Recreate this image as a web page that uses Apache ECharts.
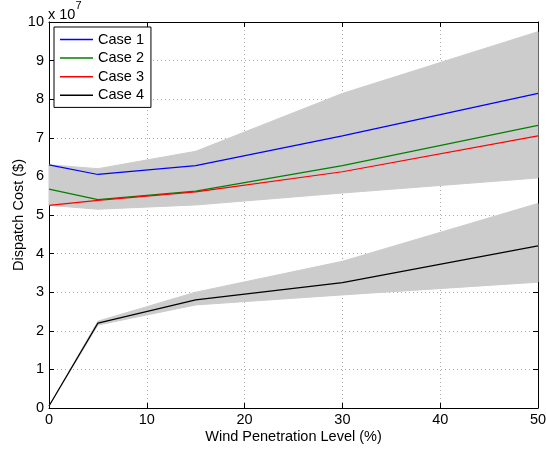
<!DOCTYPE html>
<html><head><meta charset="utf-8">
<script src="https://cdn.jsdelivr.net/npm/echarts@6/dist/echarts.min.js"></script>
<style>html,body{margin:0;padding:0;background:#fff}#c{width:546px;height:449px}</style>
</head><body><div id="c"></div>
<script>
// Values in units of 1e7 $
var windLevels = [0, 5, 15, 30, 50];
var case1 = [6.30, 6.05, 6.28, 7.05, 8.15];
var case2 = [5.67, 5.40, 5.62, 6.28, 7.32];
var case3 = [5.25, 5.38, 5.60, 6.12, 7.05];
var case4 = [0.05, 2.20, 2.80, 3.25, 4.20];
// gray scenario envelopes (lower / upper)
var upperBandLow  = [5.25, 5.15, 5.26, 5.57, 5.96];
var upperBandHigh = [6.30, 6.20, 6.65, 8.15, 9.75];
var lowerBandLow  = [0.05, 2.15, 2.67, 2.93, 3.26];
var lowerBandHigh = [0.05, 2.25, 3.00, 3.80, 5.30];
var caseNames = ['Case 1', 'Case 2', 'Case 3', 'Case 4'];

function pairs(arr){ return windLevels.map(function(x,i){ return [x, arr[i]]; }); }

var FONT = 'Liberation Sans';
var FS = 14.5;
var gray = '#cccccc';
var chart = echarts.init(document.getElementById('c'));
var gridLine = {show:true, lineStyle:{color:'#aaa', type:[1,3], width:1}};
var axisCommon = {
  axisLine:{show:true, onZero:false, lineStyle:{color:'#000', width:1}},
  axisTick:{show:true, inside:true, length:5, lineStyle:{color:'#000'}},
  axisLabel:{color:'#000', fontFamily:FONT, fontSize:FS},
};
function bandSeries(lo, hi){
  var rows = windLevels.map(function(x,i){ return [x, lo[i], hi[i]]; });
  return {type:'custom', silent:true, z:1, data:rows, encode:{x:0, y:[1,2]},
    renderItem:function(params, api){
      var i = params.dataIndex;
      if (i === 0) return null;
      var a = rows[i-1], b = rows[i];
      var pts = [api.coord([a[0], a[1]]), api.coord([b[0], b[1]]), api.coord([b[0], b[2]]), api.coord([a[0], a[2]])];
      return {type:'polygon', shape:{points:pts}, style:{fill:gray, stroke:gray, lineWidth:1}};
    }};
}
var caseColors = ['#0000ff', '#008000', '#ff0000', '#000000'];
var caseData = [case1, case2, case3, case4];
var series = [bandSeries(upperBandLow, upperBandHigh), bandSeries(lowerBandLow, lowerBandHigh)];
caseNames.forEach(function(n, i){
  series.push({name:n, type:'line', data:pairs(caseData[i]), symbol:'none',
    lineStyle:{color:caseColors[i], width:1.2}, itemStyle:{color:caseColors[i]}, z:5});
});

chart.setOption({
  animation:false,
  backgroundColor:'#fff',
  textStyle:{fontFamily:FONT},
  grid:{left:49, right:8, top:22, bottom:41, show:false, containLabel:false, outerBoundsMode:'none'},
  legend:{
    data:caseNames.map(function(n,i){return {name:n, icon:'rect', itemStyle:{color:caseColors[i]}};}),
    orient:'vertical', left:54, top:27, itemWidth:33, itemHeight:1.5, itemGap:3.6,
    borderColor:'#000', borderWidth:1, backgroundColor:'#fff', padding:[5,7,4.6,6],
    textStyle:{fontFamily:FONT, fontSize:FS, color:'#000'}, selectedMode:false
  },
  xAxis:[
    Object.assign({type:'value', min:0, max:50, interval:10, position:'bottom',
      name:'Wind Penetration Level (%)', nameLocation:'middle', nameGap:21, nameMoveOverlap:false,
      nameTextStyle:{fontFamily:FONT, fontSize:FS, color:'#000'},
      splitLine:gridLine}, axisCommon, {axisLabel:{color:'#000', fontFamily:FONT, fontSize:FS, margin:4}}),
    Object.assign({type:'value', min:0, max:50, interval:10, position:'top'}, axisCommon,
      {axisLabel:{show:false}, splitLine:{show:false}})
  ],
  yAxis:[
    Object.assign({type:'value', min:0, max:10, interval:1, position:'left',
      name:'Dispatch Cost ($)', nameLocation:'middle', nameGap:23, nameRotate:90, nameMoveOverlap:false,
      nameTextStyle:{fontFamily:FONT, fontSize:FS, color:'#000'},
      splitLine:gridLine}, axisCommon, {axisLabel:{color:'#000', fontFamily:FONT, fontSize:FS, margin:5}}),
    Object.assign({type:'value', min:0, max:10, interval:1, position:'right'}, axisCommon,
      {axisLabel:{show:false}, splitLine:{show:false}})
  ],
  graphic:[{type:'text', left:48, top:0, style:{
    text:'{a|x 10}{b|7}', rich:{a:{fontFamily:FONT, fontSize:FS, fill:'#000', padding:[7,0,0,0]}, b:{fontFamily:FONT, fontSize:11, fill:'#000', verticalAlign:'top'}}
  }}],
  series:series
});
</script></body></html>
